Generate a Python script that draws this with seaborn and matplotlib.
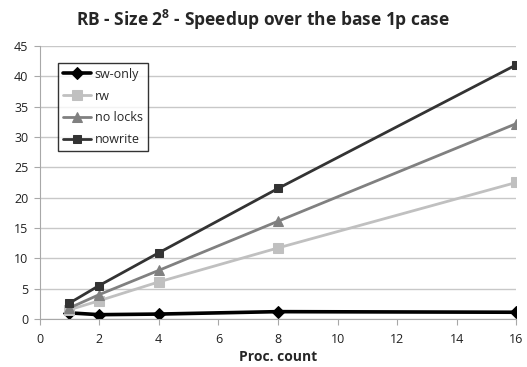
import pandas as pd
import numpy as np
import matplotlib
matplotlib.use("Agg")
import matplotlib.pyplot as plt
import seaborn as sn

procs = [1, 2, 4, 8, 16]
sw_only = [1.0, 0.7, 0.8, 1.2, 1.1]
rw = [1.5, 3.0, 6.1, 11.7, 22.5]
no_locks = [1.8, 4.0, 8.0, 16.1, 32.2]
nowrite = [2.6, 5.5, 10.9, 21.5, 41.9]
series = ["sw-only", "rw", "no locks", "nowrite"]

datad = pd.DataFrame({
    "procs": procs * 4,
    "speedup": sw_only + rw + no_locks + nowrite,
    "series": sum([[s] * len(procs) for s in series], []),
})

sn.set_style("white")
plt.rcParams["font.family"] = ["Open Sans", "DejaVu Sans"]
plt.rcParams["mathtext.fontset"] = "custom"
plt.rcParams["mathtext.rm"] = "Open Sans"
plt.rcParams["mathtext.bf"] = "Open Sans:bold"

colors = {"sw-only": "#000000", "rw": "#c0c0c0", "no locks": "#808080", "nowrite": "#333333"}
marks = {"sw-only": "D", "rw": "s", "no locks": "^", "nowrite": "s"}
sizes = {"sw-only": 6, "rw": 7, "no locks": 7.5, "nowrite": 5.5}
widths = {"sw-only": 2.6, "rw": 2.0, "no locks": 2.0, "nowrite": 2.0}

fig = plt.figure(figsize=(5.27, 3.67), dpi=100)
ax = fig.add_axes([0.075, 0.131, 0.905, 0.744])

for s in series:
    sub = datad[datad["series"] == s]
    sn.lineplot(x="procs", y="speedup", data=sub, ax=ax, color=colors[s],
                marker=marks[s], markersize=sizes[s], markeredgecolor=colors[s],
                linewidth=widths[s], label=s)

ax.set_xlim(0, 16)
ax.set_ylim(0, 45)
ax.set_xticks(range(0, 17, 2))
ax.set_yticks(range(0, 46, 5))
ax.yaxis.grid(True, color="#c8c8c8", linewidth=1)
ax.xaxis.grid(False)
for side in ["top", "right"]:
    ax.spines[side].set_visible(False)
for side in ["left", "bottom"]:
    ax.spines[side].set_color("#a8a8a8")
ax.tick_params(axis="both", direction="out", length=4, color="#a8a8a8", labelsize=9,
               labelcolor="#222222")
ax.tick_params(axis="x", bottom=True, pad=6)
ax.tick_params(axis="y", left=True, pad=4)

ax.set_xlabel("Proc. count", fontsize=10, fontweight="bold", labelpad=3)
ax.set_ylabel("")
fig.text(0.5, 0.945, r"RB - Size 2$^{\mathbf{8}}$ - Speedup over the base 1p case",
         fontsize=12.5, fontweight="bold", ha="center", va="center")

leg = ax.legend(loc="upper left", bbox_to_anchor=(0.038, 0.938), borderaxespad=0,
                fontsize=9, frameon=True, fancybox=False, handlelength=2.3,
                borderpad=0.4, labelspacing=0.7, handletextpad=0.25)
leg.get_frame().set_edgecolor("black")
leg.get_frame().set_linewidth(1.0)

fig.savefig("out.png", dpi=100)
